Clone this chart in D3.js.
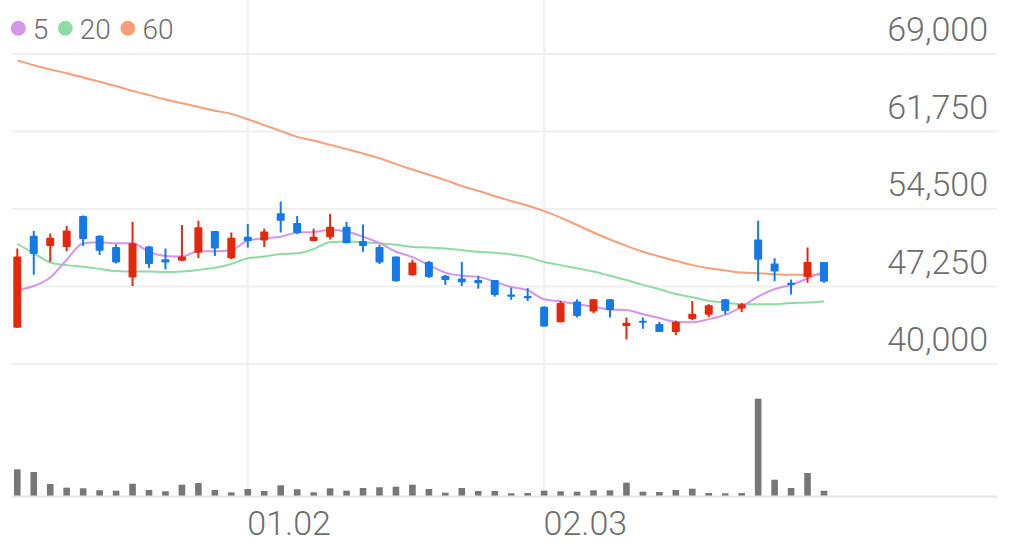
<!DOCTYPE html>
<html>
<head>
<meta charset="utf-8">
<script src="https://cdn.jsdelivr.net/npm/d3@7"></script>
<style>
body { margin: 0; background: #fff; }
text { font-family: Roboto, "Noto Sans", sans-serif; }
</style>
</head>
<body>
<div id="chart"></div>
<script>

var width = 1013,
    height = 556;

// daily prices (won)
var opens  = [43400, 52000, 51050, 50950, 53850, 52000, 50950, 48100, 51000, 49800,
              49650, 50400, 52450, 49900, 51900, 51550, 54100, 53200, 51500, 51850,
              52850, 51500, 50950, 50050, 48300, 49550, 48250, 48000, 47850, 47850,
              46500, 46350, 45350, 43900, 45850, 44900, 46050, 43550, 44050, 43750,
              43000, 44200, 44600, 46050, 45200, 51650, 49400, 47600, 48150, 49550];
var highs  = [50800, 52450, 52200, 52900, 53900, 52050, 51200, 53300, 51050, 50800,
              53000, 53400, 52450, 52300, 53100, 52650, 55200, 53850, 52650, 54050,
              53300, 53050, 51150, 50050, 49750, 49650, 48350, 49550, 48250, 47850,
              47150, 47100, 45400, 45900, 46050, 46100, 46100, 44350, 44350, 43950,
              44050, 45900, 45600, 46100, 45700, 53400, 49900, 47900, 50900, 49550];
var lows   = [43400, 48350, 49550, 50550, 51050, 50200, 49400, 47300, 49000, 48850,
              49650, 49900, 50100, 49800, 50900, 50950, 52300, 52150, 51500, 51650,
              51300, 50500, 49350, 47700, 48250, 48050, 47400, 47300, 47050, 46300,
              46000, 45900, 43500, 43900, 44350, 44750, 44350, 42300, 43300, 43000,
              42700, 44100, 44400, 44650, 44850, 47750, 47750, 46500, 47600, 47600];
var closes = [50050, 50300, 51800, 52500, 51700, 50600, 49500, 51300, 49350, 49500,
              50050, 52800, 50800, 51800, 51500, 52400, 53400, 52250, 51900, 52850,
              51300, 51050, 49500, 47750, 49500, 48150, 47850, 47650, 47550, 46450,
              46300, 46150, 43500, 45700, 44500, 46050, 45050, 43850, 43850, 43000,
              43950, 44700, 45500, 44950, 45600, 49750, 48650, 47400, 49550, 47700];
var volumes = [267000, 240000, 120000, 83000, 77000, 57000, 53000, 123000, 60000, 47000,
               113000, 130000, 60000, 37000, 70000, 50000, 107000, 67000, 37000, 77000,
               53000, 80000, 87000, 93000, 113000, 70000, 33000, 80000, 50000, 50000,
               27000, 30000, 53000, 47000, 43000, 57000, 57000, 133000, 43000, 40000,
               60000, 73000, 30000, 27000, 30000, 973000, 163000, 80000, 230000, 53000];

// moving averages
var ma5  = [46900, 47300, 48100, 49750, 51300, 51400, 51300, 51300, 50500, 50100,
            50050, 50550, 50550, 50650, 51550, 51750, 51900, 52300, 52350, 52550,
            52400, 51900, 51300, 50500, 50000, 49250, 48550, 48250, 48150, 47700,
            47200, 46900, 46050, 45850, 45600, 45350, 45100, 45050, 44650, 44300,
            43950, 43900, 44200, 44600, 45350, 46300, 47000, 47400, 48000, 48650];
var ma20 = [51250, 50350, 49500, 49250, 49100, 48900, 48700, 48650, 48650, 48600,
            48650, 48800, 49000, 49350, 49900, 50050, 50300, 50350, 50750, 51400,
            51450, 51400, 51300, 51150, 50950, 50900, 50800, 50650, 50500, 50400,
            50250, 50000, 49550, 49250, 48950, 48650, 48250, 47850, 47400, 47000,
            46550, 46250, 45900, 45750, 45600, 45600, 45600, 45700, 45750, 45850];
var ma60 = [68400, 67950, 67550, 67200, 66800, 66400, 66000, 65550, 65150, 64750,
            64400, 64050, 63700, 63400, 62900, 62350, 61800, 61250, 60900, 60500,
            60100, 59700, 59250, 58700, 58200, 57700, 57200, 56650, 56200, 55700,
            55250, 54800, 54300, 53700, 53000, 52300, 51650, 51050, 50500, 50050,
            49650, 49250, 48950, 48750, 48550, 48500, 48400, 48350, 48350, 48350];

var maNames = ["5", "20", "60"];
var priceTicks = [40000, 47250, 54500, 61750, 69000];
var dateTickIndex = [14, 32];
var dateTickLabels = ["01.02", "02.03"];

var upColor = "#e3280c",
    downColor = "#1679e8",
    maColors = ["#d595ea", "#8edba3", "#f5a07b"];

var svg = d3.select("#chart").append("svg")
    .attr("width", width)
    .attr("height", height);

var x = d3.scaleLinear()
    .domain([0, closes.length - 1])
    .range([17.3, 824]);

var y = d3.scaleLinear()
    .domain([40000, 69000])
    .range([364, 54]);

var yv = d3.scaleLinear()
    .domain([0, 1300000])
    .range([496, 366]);

// grid
svg.append("g").selectAll("line")
    .data(priceTicks)
  .enter().append("line")
    .attr("x1", 12).attr("x2", 997)
    .attr("y1", function(d) { return y(d); })
    .attr("y2", function(d) { return y(d); })
    .style("stroke", "#f0f0f0")
    .style("stroke-width", 2);

svg.append("g").selectAll("line")
    .data(dateTickIndex)
  .enter().append("line")
    .attr("x1", function(d) { return x(d); })
    .attr("x2", function(d) { return x(d); })
    .attr("y1", 0).attr("y2", 496)
    .style("stroke", "#f0f0f0")
    .style("stroke-width", 2);

// volume
svg.append("g").selectAll("rect")
    .data(volumes)
  .enter().append("rect")
    .attr("x", function(d, i) { return x(i) - 3.3; })
    .attr("width", 6.6)
    .attr("y", function(d) { return yv(d); })
    .attr("height", function(d) { return yv(0) - yv(d); })
    .style("fill", "#777777");

svg.append("line")
    .attr("x1", 12).attr("x2", 997)
    .attr("y1", 496.6).attr("y2", 496.6)
    .style("stroke", "#e6e6e6")
    .style("stroke-width", 2.2);

// moving average lines
var line = d3.line()
    .x(function(d, i) { return x(i); })
    .y(function(d) { return y(d); })
    .curve(d3.curveMonotoneX);

[ma60, ma20, ma5].forEach(function(series, k) {
  svg.append("path")
      .datum(series)
      .attr("d", line)
      .style("fill", "none")
      .style("stroke", maColors[2 - k])
      .style("stroke-width", 2);
});

// candles
var candles = svg.append("g").selectAll("g")
    .data(closes)
  .enter().append("g")
    .style("fill", function(d, i) { return d >= opens[i] ? upColor : downColor; })
    .style("stroke", function(d, i) { return d >= opens[i] ? upColor : downColor; });

candles.append("line")
    .attr("x1", function(d, i) { return x(i); })
    .attr("x2", function(d, i) { return x(i); })
    .attr("y1", function(d, i) { return y(highs[i]); })
    .attr("y2", function(d, i) { return y(lows[i]); })
    .style("stroke-width", 2);

candles.append("rect")
    .attr("x", function(d, i) { return x(i) - 4; })
    .attr("width", 8)
    .attr("y", function(d, i) { return y(Math.max(d, opens[i])); })
    .attr("height", function(d, i) { return Math.max(2, Math.abs(y(d) - y(opens[i]))); })
    .attr("rx", 1)
    .style("stroke", "none");

// price axis
var yAxis = svg.append("g")
    .attr("transform", "translate(988,0)")
    .call(d3.axisRight(y).tickValues(priceTicks).tickFormat(d3.format(",")).tickSize(0));

yAxis.select(".domain").remove();
yAxis.selectAll("text")
    .attr("x", 0)
    .attr("dy", null)
    .attr("y", -13.5)
    .attr("text-anchor", "end")
    .style("font-family", "Roboto, sans-serif")
    .style("font-weight", 300)
    .style("font-size", "34px")
    .style("fill", "#6e6e6e");

// date axis
var xAxis = svg.append("g")
    .attr("transform", "translate(-1,496)")
    .call(d3.axisBottom(x).tickValues(dateTickIndex)
      .tickFormat(function(d, i) { return dateTickLabels[i]; }).tickSize(0));

xAxis.select(".domain").remove();
xAxis.selectAll("text")
    .attr("y", 39)
    .attr("dy", null)
    .attr("text-anchor", "start")
    .style("font-family", "Roboto, sans-serif")
    .style("font-weight", 300)
    .style("font-size", "34px")
    .style("fill", "#6e6e6e");

// legend
var legend = svg.append("g");
var lx = 18.3;
maNames.forEach(function(name, i) {
  legend.append("circle")
      .attr("cx", lx)
      .attr("cy", 28.3)
      .attr("r", 7.5)
      .style("fill", maColors[i]);
  var t = legend.append("text")
      .attr("x", lx + 14.5)
      .attr("y", 38.5)
      .style("font-size", "28px")
      .style("font-weight", 300)
      .style("fill", "#6e6e6e")
      .text(name);
  lx = lx + 14.5 + t.node().getComputedTextLength() + 17;
});

</script>
</body>
</html>
